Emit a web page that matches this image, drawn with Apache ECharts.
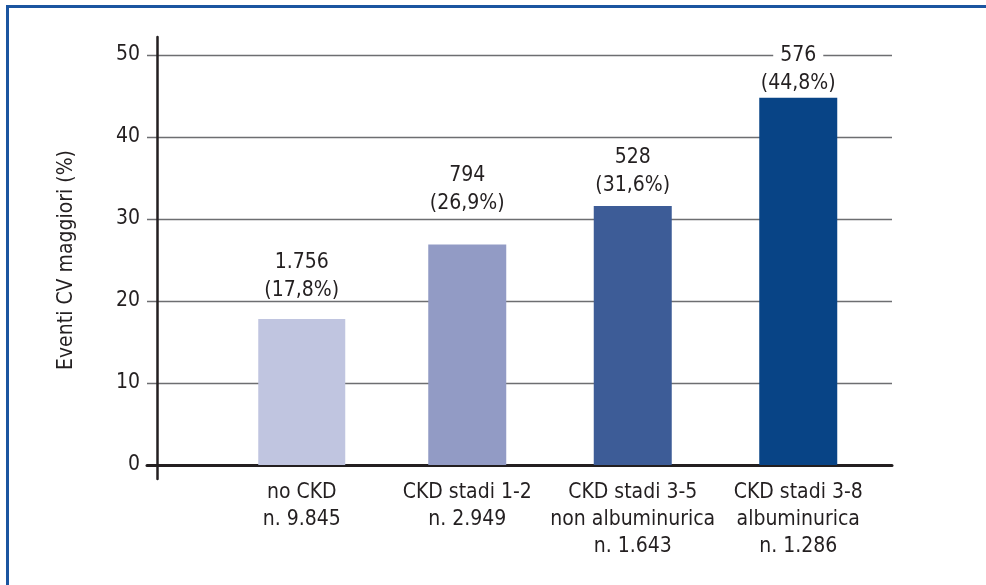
<!DOCTYPE html>
<html>
<head>
<meta charset="utf-8">
<title>Eventi CV maggiori per stadio di CKD</title>
<script src="https://cdn.jsdelivr.net/npm/echarts@6/dist/echarts.min.js"></script>
<style>
  html, body { margin: 0; padding: 0; background: #ffffff; }
  #wrap { position: relative; width: 986px; height: 585px; }
  #chart { position: absolute; left: 0; top: 0; width: 986px; height: 585px; }
  #frame {
    position: absolute; left: 6px; top: 5px; right: 0; bottom: 0;
    border-left: 3px solid #1b55a0; border-top: 3px solid #1b55a0;
    pointer-events: none;
  }
</style>
</head>
<body>
<div id="wrap">
  <div id="chart"></div>
  <div id="frame"></div>
</div>
<script>
// Gruppi di pazienti (asse x)
const groups = ['no CKD', 'CKD stadi 1-2', 'CKD stadi 3-5\nnon albuminurica', 'CKD stadi 3-8\nalbuminurica'];
// Numerosità di ciascun gruppo
const groupSizes = [9845, 2949, 1643, 1286];
// Numero di eventi CV maggiori
const eventCounts = [1756, 794, 528, 576];
// Percentuale di eventi CV maggiori
const eventPct = [17.8, 26.9, 31.6, 44.8];
// Scala dell'asse y
const yTicks = { min: 0, max: 50, step: 10 };

const FONT = "'Liberation Sans Narrow', 'DejaVu Sans Condensed', 'Arial Narrow', sans-serif";
const FS = 21;
const INK = '#231f20';
const GRID = '#6d6e71';
const barColors = ['#c0c5e0', '#929bc5', '#3d5c97', '#084486'];
const labelGap = [14, 27, 6, 0];

// Separatore delle migliaia con il punto, decimali con la virgola
function thousands(n) {
  return String(n).replace(/\B(?=(\d{3})+(?!\d))/g, '.');
}
function pct(v) {
  return '(' + v.toFixed(1).replace('.', ',') + '%)';
}

const axisLabels = groups.map((g, i) => g + '\nn. ' + thousands(groupSizes[i]));

// Il gruppo di riferimento (no CKD) ha una barra leggermente più larga
function barItems(keep) {
  return eventPct.map((v, i) => keep(i) ? {
    value: v,
    itemStyle: { color: barColors[i] },
    label: { distance: labelGap[i] }
  } : '-');
}

const barLabel = {
  show: true,
  position: 'top',
  formatter: p => '{n|' + thousands(eventCounts[p.dataIndex]) + '}\n{p|' + pct(eventPct[p.dataIndex]) + '}',
  rich: {
    n: {
      fontSize: FS, lineHeight: 28, color: INK, fontFamily: FONT,
      backgroundColor: '#ffffff', padding: [0, 7]
    },
    p: { fontSize: FS, lineHeight: 28, color: INK, fontFamily: FONT }
  }
};

const chart = echarts.init(document.getElementById('chart'), null, { renderer: 'canvas' });

chart.setOption({
  animation: false,
  textStyle: { fontFamily: FONT, color: INK },
  grid: [
    // scala, griglia e asse x
    { left: 147, right: 94, top: 55, bottom: 120 },
    // barre
    { left: 219, right: 105, top: 55, bottom: 120 },
    // linea dell'asse y, che sporge oltre 0 e 50
    { left: 157, width: 1, top: 37, bottom: 106 }
  ],
  xAxis: [
    {
      gridIndex: 0, type: 'category', data: [''],
      axisLine: { show: true, lineStyle: { color: INK, width: 3 } },
      axisTick: { show: false }, axisLabel: { show: false }, splitLine: { show: false }
    },
    {
      gridIndex: 1, type: 'category', data: axisLabels,
      axisLine: { show: false }, axisTick: { show: false },
      axisLabel: {
        interval: 0, margin: 14, fontSize: FS, lineHeight: 27,
        color: INK, fontFamily: FONT, align: 'center'
      }
    },
    { gridIndex: 1, type: 'category', data: axisLabels, show: false },
    { gridIndex: 2, type: 'category', data: [''], show: false }
  ],
  yAxis: [
    {
      gridIndex: 0, type: 'value',
      min: yTicks.min, max: yTicks.max, interval: yTicks.step,
      name: 'Eventi CV maggiori (%)',
      nameLocation: 'middle', nameGap: 70,
      nameTextStyle: { fontSize: FS, color: INK, fontFamily: FONT },
      axisLine: { show: false },
      axisTick: { show: false },
      axisLabel: { margin: 7, fontSize: FS, color: INK, fontFamily: FONT },
      splitLine: { show: true, lineStyle: { color: GRID, width: 1.3 } }
    },
    {
      gridIndex: 1, type: 'value',
      min: yTicks.min, max: yTicks.max, interval: yTicks.step,
      show: false
    },
    {
      gridIndex: 2, type: 'value', min: 0, max: 1,
      axisLine: { show: true, lineStyle: { color: INK, width: 2.5 } },
      axisTick: { show: false }, axisLabel: { show: false }, splitLine: { show: false }
    }
  ],
  series: [
    {
      type: 'bar',
      xAxisIndex: 1, yAxisIndex: 1,
      barWidth: 87,
      data: barItems(i => i === 0),
      label: barLabel
    },
    {
      type: 'bar',
      xAxisIndex: 2, yAxisIndex: 1,
      barWidth: 78,
      data: barItems(i => i > 0),
      label: barLabel
    }
  ]
});
</script>
</body>
</html>
